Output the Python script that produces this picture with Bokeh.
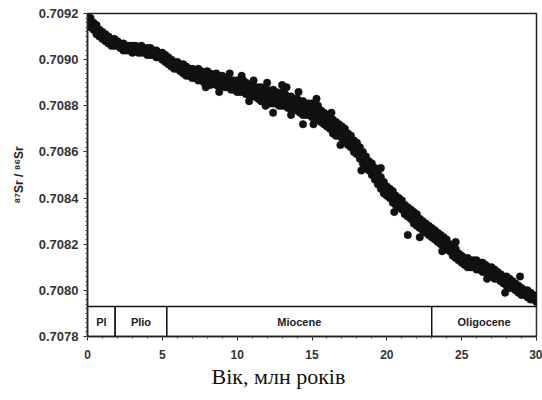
from bokeh.plotting import figure
from bokeh.models import Range1d, FixedTicker, Title
from bokeh.core.properties import value
from bokeh.embed import file_html
from bokeh.resources import INLINE

# ---------------- data ----------------
ages = [
    0.0, 0.2, 0.4, 0.6, 0.8, 1.0, 1.2, 1.4, 1.6, 1.8,
    2.0, 2.2, 2.4, 2.6, 2.8, 3.0, 3.2, 3.4, 3.6, 3.8,
    4.0, 4.2, 4.4, 4.6, 4.8, 5.0, 5.2, 5.4, 5.6, 5.8,
    6.0, 6.2, 6.4, 6.6, 6.8, 7.0, 7.2, 7.4, 7.6, 7.8,
    8.0, 8.2, 8.4, 8.6, 8.8, 9.0, 9.2, 9.4, 9.6, 9.8,
    10.0, 10.2, 10.4, 10.6, 10.8, 11.0, 11.2, 11.4, 11.6, 11.8,
    12.0, 12.2, 12.4, 12.6, 12.8, 13.0, 13.2, 13.4, 13.6, 13.8,
    14.0, 14.2, 14.4, 14.6, 14.8, 15.0, 15.2, 15.4, 15.6, 15.8,
    16.0, 16.2, 16.4, 16.6, 16.8, 17.0, 17.2, 17.4, 17.6, 17.8,
    18.0, 18.2, 18.4, 18.6, 18.8, 19.0, 19.2, 19.4, 19.6, 19.8,
    20.0, 20.2, 20.4, 20.6, 20.8, 21.0, 21.2, 21.4, 21.6, 21.8,
    22.0, 22.2, 22.4, 22.6, 22.8, 23.0, 23.2, 23.4, 23.6, 23.8,
    24.0, 24.2, 24.4, 24.6, 24.8, 25.0, 25.2, 25.4, 25.6, 25.8,
    26.0, 26.2, 26.4, 26.6, 26.8, 27.0, 27.2, 27.4, 27.6, 27.8,
    28.0, 28.2, 28.4, 28.6, 28.8, 29.0, 29.2, 29.4, 29.6, 29.8,
    30.0,
]

# upper edge of the cloud of measurements
ratio_upper = [
    0.70919, 0.70918, 0.70916, 0.70915, 0.70913, 0.70912, 0.70911, 0.70910, 0.70909, 0.70909,
    0.70908, 0.70907, 0.70907, 0.70906, 0.70906, 0.70906, 0.70906, 0.70905, 0.70906, 0.70905,
    0.70905, 0.70905, 0.70904, 0.70904, 0.70903, 0.70903, 0.70902, 0.70901, 0.70900, 0.70899,
    0.70899, 0.70898, 0.70898, 0.70897, 0.70896, 0.70896, 0.70895, 0.70896, 0.70895, 0.70894,
    0.70895, 0.70894, 0.70893, 0.70894, 0.70893, 0.70893, 0.70892, 0.70892, 0.70891, 0.70891,
    0.70891, 0.70890, 0.70891, 0.70890, 0.70889, 0.70889, 0.70888, 0.70888, 0.70888, 0.70887,
    0.70887, 0.70886, 0.70887, 0.70886, 0.70885, 0.70886, 0.70885, 0.70884, 0.70884, 0.70883,
    0.70883, 0.70882, 0.70882, 0.70881, 0.70881, 0.70881, 0.70880, 0.70880, 0.70878, 0.70877,
    0.70876, 0.70875, 0.70874, 0.70873, 0.70872, 0.70871, 0.70870, 0.70868, 0.70867, 0.70865,
    0.70864, 0.70862, 0.70860, 0.70858, 0.70856, 0.70855, 0.70853, 0.70851, 0.70849, 0.70847,
    0.70845, 0.70844, 0.70843, 0.70841, 0.70840, 0.70839, 0.70837, 0.70836, 0.70835, 0.70834,
    0.70833, 0.70831, 0.70830, 0.70829, 0.70828, 0.70827, 0.70826, 0.70825, 0.70824, 0.70823,
    0.70822, 0.70820, 0.70819, 0.70818, 0.70816, 0.70815, 0.70814, 0.70814, 0.70813, 0.70813,
    0.70813, 0.70812, 0.70812, 0.70811, 0.70810, 0.70810, 0.70809, 0.70808, 0.70807, 0.70806,
    0.70806, 0.70805, 0.70804, 0.70803, 0.70802, 0.70801, 0.70800, 0.70800, 0.70799, 0.70798,
    0.70797,
]

# lower edge of the cloud of measurements
ratio_lower = [
    0.70916, 0.70914, 0.70913, 0.70911, 0.70910, 0.70909, 0.70908, 0.70907, 0.70906, 0.70906,
    0.70906, 0.70905, 0.70904, 0.70904, 0.70904, 0.70903, 0.70904, 0.70903, 0.70903, 0.70903,
    0.70902, 0.70902, 0.70902, 0.70901, 0.70901, 0.70900, 0.70899, 0.70898, 0.70897, 0.70896,
    0.70896, 0.70895, 0.70894, 0.70893, 0.70893, 0.70892, 0.70892, 0.70891, 0.70891, 0.70890,
    0.70890, 0.70889, 0.70890, 0.70889, 0.70888, 0.70889, 0.70888, 0.70888, 0.70887, 0.70887,
    0.70886, 0.70886, 0.70886, 0.70885, 0.70885, 0.70884, 0.70884, 0.70883, 0.70882, 0.70882,
    0.70882, 0.70881, 0.70881, 0.70881, 0.70880, 0.70880, 0.70880, 0.70879, 0.70879, 0.70878,
    0.70878, 0.70877, 0.70876, 0.70876, 0.70876, 0.70875, 0.70875, 0.70874, 0.70873, 0.70872,
    0.70871, 0.70870, 0.70868, 0.70867, 0.70867, 0.70866, 0.70865, 0.70863, 0.70862, 0.70860,
    0.70859, 0.70857, 0.70855, 0.70853, 0.70852, 0.70850, 0.70848, 0.70846, 0.70844, 0.70842,
    0.70841, 0.70840, 0.70838, 0.70837, 0.70836, 0.70835, 0.70833, 0.70832, 0.70831, 0.70829,
    0.70828, 0.70827, 0.70826, 0.70825, 0.70824, 0.70823, 0.70822, 0.70821, 0.70820, 0.70819,
    0.70818, 0.70817, 0.70815, 0.70814, 0.70813, 0.70812, 0.70811, 0.70810, 0.70810, 0.70810,
    0.70809, 0.70809, 0.70808, 0.70808, 0.70807, 0.70806, 0.70805, 0.70805, 0.70804, 0.70803,
    0.70802, 0.70801, 0.70801, 0.70800, 0.70799, 0.70798, 0.70798, 0.70797, 0.70796, 0.70796,
    0.70795,
]

# middle of the cloud, read between the sampled ages
mid_ages = [
    0.1, 0.3, 0.5, 0.7, 0.9, 1.1, 1.3, 1.5, 1.7, 1.9,
    2.1, 2.3, 2.5, 2.7, 2.9, 3.1, 3.3, 3.5, 3.7, 3.9,
    4.1, 4.3, 4.5, 4.7, 4.9, 5.1, 5.3, 5.5, 5.7, 5.9,
    6.1, 6.3, 6.5, 6.7, 6.9, 7.1, 7.3, 7.5, 7.7, 7.9,
    8.1, 8.3, 8.5, 8.7, 8.9, 9.1, 9.3, 9.5, 9.7, 9.9,
    10.1, 10.3, 10.5, 10.7, 10.9, 11.1, 11.3, 11.5, 11.7, 11.9,
    12.1, 12.3, 12.5, 12.7, 12.9, 13.1, 13.3, 13.5, 13.7, 13.9,
    14.1, 14.3, 14.5, 14.7, 14.9, 15.1, 15.3, 15.5, 15.7, 15.9,
    16.1, 16.3, 16.5, 16.7, 16.9, 17.1, 17.3, 17.5, 17.7, 17.9,
    18.1, 18.3, 18.5, 18.7, 18.9, 19.1, 19.3, 19.5, 19.7, 19.9,
    20.1, 20.3, 20.5, 20.7, 20.9, 21.1, 21.3, 21.5, 21.7, 21.9,
    22.1, 22.3, 22.5, 22.7, 22.9, 23.1, 23.3, 23.5, 23.7, 23.9,
    24.1, 24.3, 24.5, 24.7, 24.9, 25.1, 25.3, 25.5, 25.7, 25.9,
    26.1, 26.3, 26.5, 26.7, 26.9, 27.1, 27.3, 27.5, 27.7, 27.9,
    28.1, 28.3, 28.5, 28.7, 28.9, 29.1, 29.3, 29.5, 29.7, 29.9,
]
ratio_mid = [
    0.70917, 0.70916, 0.70914, 0.70912, 0.70911, 0.70910, 0.70909, 0.70908, 0.70908, 0.70907,
    0.70906, 0.70906, 0.70905, 0.70905, 0.70905, 0.70904, 0.70905, 0.70904, 0.70904, 0.70904,
    0.70903, 0.70904, 0.70903, 0.70902, 0.70902, 0.70901, 0.70900, 0.70899, 0.70898, 0.70897,
    0.70897, 0.70896, 0.70895, 0.70895, 0.70894, 0.70893, 0.70894, 0.70893, 0.70892, 0.70893,
    0.70892, 0.70891, 0.70892, 0.70891, 0.70890, 0.70891, 0.70890, 0.70889, 0.70889, 0.70888,
    0.70888, 0.70888, 0.70887, 0.70887, 0.70886, 0.70886, 0.70885, 0.70885, 0.70884, 0.70884,
    0.70884, 0.70883, 0.70884, 0.70883, 0.70882, 0.70883, 0.70882, 0.70881, 0.70881, 0.70880,
    0.70880, 0.70879, 0.70879, 0.70878, 0.70878, 0.70878, 0.70877, 0.70876, 0.70875, 0.70874,
    0.70873, 0.70872, 0.70871, 0.70870, 0.70869, 0.70868, 0.70867, 0.70865, 0.70864, 0.70862,
    0.70860, 0.70858, 0.70856, 0.70855, 0.70853, 0.70851, 0.70849, 0.70847, 0.70845, 0.70843,
    0.70842, 0.70841, 0.70840, 0.70838, 0.70837, 0.70836, 0.70834, 0.70833, 0.70832, 0.70831,
    0.70829, 0.70828, 0.70827, 0.70826, 0.70825, 0.70824, 0.70823, 0.70823, 0.70821, 0.70820,
    0.70819, 0.70817, 0.70816, 0.70815, 0.70814, 0.70813, 0.70812, 0.70811, 0.70812, 0.70811,
    0.70811, 0.70810, 0.70810, 0.70809, 0.70808, 0.70808, 0.70807, 0.70806, 0.70805, 0.70804,
    0.70803, 0.70803, 0.70802, 0.70801, 0.70800, 0.70799, 0.70799, 0.70798, 0.70797, 0.70797,
]

# single measurements sticking out of the main band
outlier_ages = [7.9, 8.8, 12.4, 13.0, 14.4, 19.6, 21.4, 22.2, 26.7, 27.9, 28.9,
                9.5, 10.3, 11.1, 12.0, 13.3, 14.1, 15.3, 16.3, 10.8, 11.9,
                13.6, 15.1, 16.9, 18.3, 20.5, 23.7, 24.6]
outlier_ratios = [0.70888, 0.70886, 0.70877, 0.70889, 0.70872, 0.70853,
                  0.70824, 0.70823, 0.70805, 0.70799, 0.70806,
                  0.70894, 0.70893, 0.70891, 0.70890, 0.70888, 0.70886,
                  0.70883, 0.70877, 0.70882, 0.70880, 0.70876, 0.70872,
                  0.70863, 0.70852, 0.70834, 0.70817, 0.70821]

# geological epochs (Ma)
epoch_names = ["Pl", "Plio", "Miocene", "Oligocene"]
epoch_start = [0.0, 1.85, 5.3, 23.0]
epoch_end = [1.85, 5.3, 23.0, 30.0]

x_ticks = [0, 5, 10, 15, 20, 25, 30]
y_ticks = [0.7078, 0.7080, 0.7082, 0.7084, 0.7086, 0.7088, 0.7090, 0.7092]

# ---------------- figure ----------------
p = figure(
    frame_width=449, frame_height=323,
    min_border_left=87, min_border_right=6, min_border_top=13, min_border_bottom=56,
    x_range=Range1d(0, 30), y_range=Range1d(0.7078, 0.7092),
    output_backend="svg", toolbar_location=None,
)
p.background_fill_color = "white"
p.border_fill_color = "white"
p.outline_line_color = "#222222"
p.outline_line_width = 1.5
p.xgrid.visible = False
p.ygrid.visible = False

# measurements
all_x = ages + ages + mid_ages + outlier_ages
all_y = ratio_upper + ratio_lower + ratio_mid + outlier_ratios
p.scatter(all_x, all_y, size=7.5, fill_color="#111111", line_color="#111111", line_width=0.5)

# epoch band
band_bottom, band_top = 0.7078, 0.70793
p.quad(left=epoch_start, right=epoch_end, bottom=band_bottom, top=band_top,
       fill_color="white", line_color="#111111", line_width=1.5)
p.text(x=[(s + e) / 2 for s, e in zip(epoch_start, epoch_end)],
       y=[(band_bottom + band_top) / 2] * len(epoch_names),
       text=epoch_names, text_align="center", text_baseline="middle",
       text_font=value("Liberation Sans"), text_font_size="11px",
       text_font_style="bold", text_color="#222222")

# axes
x_minor = [i for i in range(0, 31)]
y_minor = [round(0.7078 + 0.00002 * i, 5) for i in range(0, 71)]
p.xaxis.ticker = FixedTicker(ticks=x_ticks, minor_ticks=x_minor)
p.yaxis.ticker = FixedTicker(ticks=y_ticks, minor_ticks=y_minor)
p.yaxis.major_label_overrides = {t: f"{t:.4f}" for t in y_ticks}

for ax in (p.xaxis[0], p.yaxis[0]):
    ax.axis_line_color = "#222222"
    ax.axis_line_width = 1.5
    ax.major_tick_line_color = "#222222"
    ax.minor_tick_line_color = "#444444"
    ax.major_tick_in = 0
    ax.major_tick_out = 4
    ax.minor_tick_in = 0
    ax.minor_tick_out = 2
    ax.major_label_text_font = "Liberation Sans"
    ax.major_label_text_font_style = "bold"
    ax.major_label_text_color = "#333333"

p.xaxis.major_label_text_font_size = "12px"
p.yaxis.major_label_text_font_size = "13px"
p.xaxis.major_label_standoff = 9
p.yaxis.major_label_standoff = 5

# x-axis title (sits left of the frame centre in the original)
p.add_layout(Title(text="Вік, млн років", align="left", offset=124, standoff=0,
                   text_font="Liberation Serif", text_font_size="22px",
                   text_font_style="normal", text_color="#111111"), "below")

p.yaxis.axis_label = "⁸⁷Sr / ⁸⁶Sr"
p.yaxis.axis_label_text_font = "Liberation Sans"
p.yaxis.axis_label_text_font_style = "bold"
p.yaxis.axis_label_text_font_size = "12px"
p.yaxis.axis_label_text_color = "#222222"
p.yaxis.axis_label_standoff = 10

open("out.html", "w").write(file_html(p, INLINE))
